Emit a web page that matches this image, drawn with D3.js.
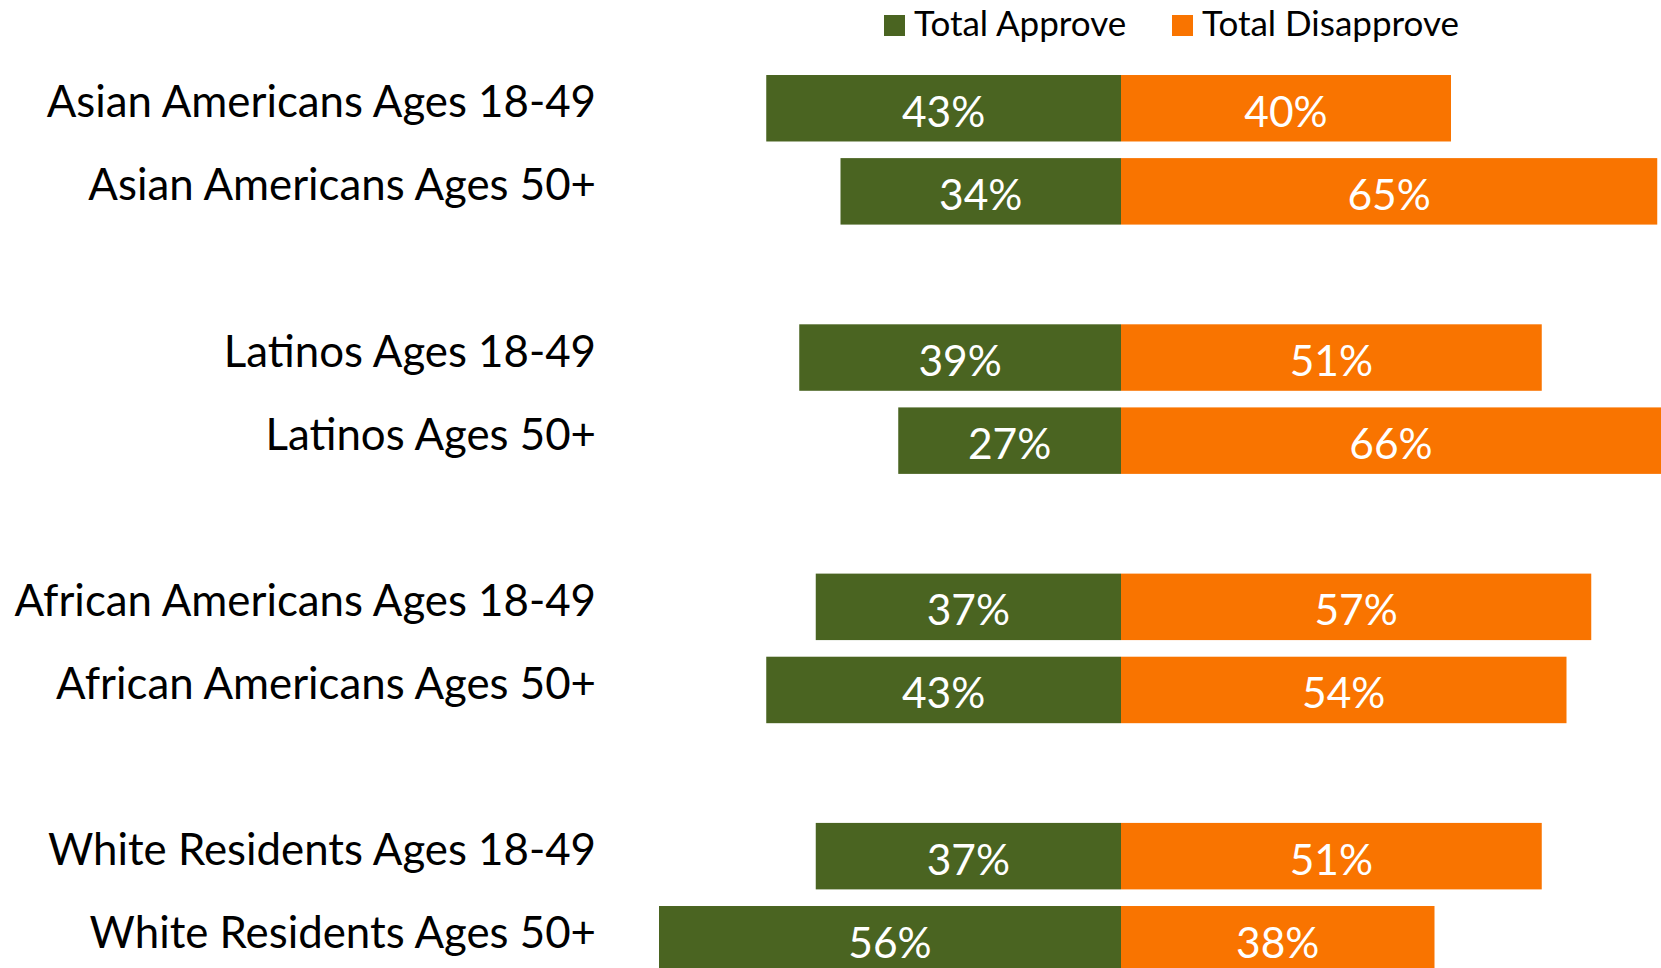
<!DOCTYPE html>
<html>
<head>
<meta charset="utf-8">
<script src="https://cdn.jsdelivr.net/npm/d3@7"></script>
<style>
  html, body { margin: 0; padding: 0; background: #fff; overflow: hidden; }
  svg { display: block; }
</style>
</head>
<body>
<svg id="chart"></svg>
<script>
const categories = [
  "Asian Americans Ages 18-49",
  "Asian Americans Ages 50+",
  "Latinos Ages 18-49",
  "Latinos Ages 50+",
  "African Americans Ages 18-49",
  "African Americans Ages 50+",
  "White Residents Ages 18-49",
  "White Residents Ages 50+"
];
const approve = [43, 34, 39, 27, 37, 43, 37, 56];
const disapprove = [40, 65, 51, 66, 57, 54, 51, 38];
const seriesNames = ["Total Approve", "Total Disapprove"];
const seriesColors = ["#4a6421", "#f97400"];

const W = 1661, H = 968;
const FONT = "Lato, 'Open Sans', sans-serif";

const svg = d3.select("#chart").attr("width", W).attr("height", H);

// slots: pairs of rows with an empty slot between groups
const slots = [];
categories.forEach((c, i) => {
  slots.push(c);
  if (i % 2 === 1 && i < categories.length - 1) slots.push("__gap" + i);
});

const y = d3.scaleBand()
  .domain(slots)
  .range([66.7, 66.7 + slots.length * 83.1])
  .paddingInner(0.2)
  .paddingOuter(0.1);

// zero at 1121, 8.25px per point
const x = d3.scaleLinear().domain([-70, 70]).range([1121 - 577.5, 1121 + 577.5]);

const rows = categories.map((c, i) => ({ cat: c, a: approve[i], d: disapprove[i] }));

const g = svg.append("g");

g.selectAll("rect.app")
  .data(rows)
  .join("rect")
  .attr("class", "app")
  .attr("x", d => x(-d.a))
  .attr("y", d => y(d.cat))
  .attr("width", d => x(0) - x(-d.a))
  .attr("height", y.bandwidth())
  .attr("fill", seriesColors[0]);

g.selectAll("rect.dis")
  .data(rows)
  .join("rect")
  .attr("class", "dis")
  .attr("x", x(0))
  .attr("y", d => y(d.cat))
  .attr("width", d => x(d.d) - x(0))
  .attr("height", y.bandwidth())
  .attr("fill", seriesColors[1]);

// value labels
const valLab = (sel, xf, key) => sel
  .attr("x", xf)
  .attr("y", d => y(d.cat) + y.bandwidth() / 2 + 2)
  .attr("dominant-baseline", "central")
  .attr("text-anchor", "middle")
  .attr("fill", "#fff")
  .style("font-family", FONT)
  .style("font-size", "42.5px")
  .text(d => d[key] + "%");

g.selectAll("text.va").data(rows).join("text").attr("class", "va")
  .call(valLab, d => (x(-d.a) + x(0)) / 2, "a");
g.selectAll("text.vd").data(rows).join("text").attr("class", "vd")
  .call(valLab, d => (x(0) + Math.min(x(d.d), W)) / 2, "d");

// category labels
g.selectAll("text.cat")
  .data(rows)
  .join("text")
  .attr("class", "cat")
  .attr("x", 596)
  .attr("y", d => y(d.cat) + y.bandwidth() / 2 - 8)
  .attr("dominant-baseline", "central")
  .attr("text-anchor", "end")
  .attr("fill", "#000")
  .style("font-family", FONT)
  .style("font-size", "43.8px")
  .text(d => d.cat);

// legend
const legX = [884, 1172];
const leg = svg.append("g").selectAll("g")
  .data(seriesNames)
  .join("g")
  .attr("transform", (d, i) => `translate(${legX[i]},15)`);
leg.append("rect").attr("width", 21).attr("height", 21).attr("fill", (d, i) => seriesColors[i]);
leg.append("text")
  .attr("x", 30)
  .attr("y", 21)
  .attr("fill", "#000")
  .style("font-family", FONT)
  .style("font-size", "35px")
  .text(d => d);
</script>
</body>
</html>
